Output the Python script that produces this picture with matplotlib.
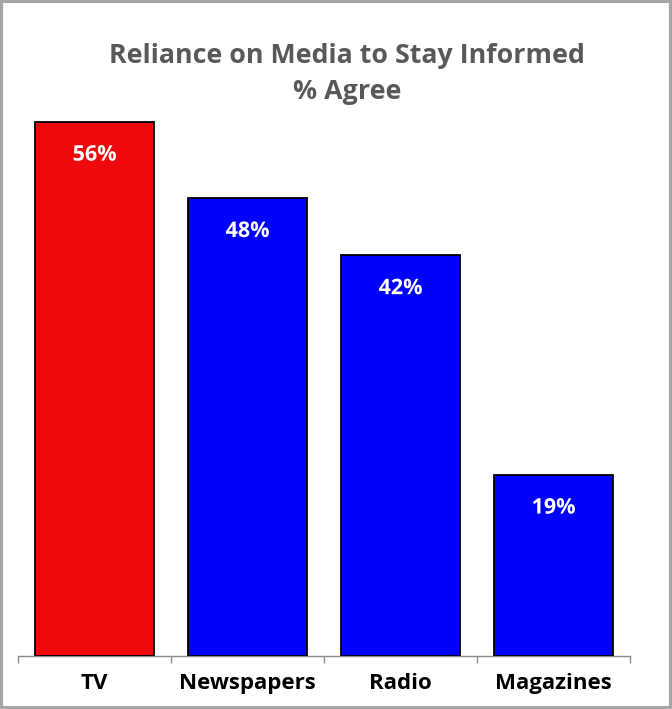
import matplotlib.pyplot as plt
import matplotlib.patheffects as pe
from matplotlib.patches import Rectangle
import numpy as np

# media categories and share agreeing (%)
media = ['TV', 'Newspapers', 'Radio', 'Magazines']
agree = [56, 48, 42, 19]
bar_colors = ['#ee0a0a', '#0000ff', '#0000ff', '#0000ff']

plt.rcParams['font.family'] = ['Open Sans', 'DejaVu Sans']

fig = plt.figure(figsize=(6.72, 7.09), dpi=100)
ax = fig.add_axes([0.0268, 0.0748, 0.9107, 0.8073])

x = np.arange(len(media))
bars = ax.bar(x, agree, width=0.78, color=bar_colors, edgecolor='black', linewidth=1.3, zorder=3)

# white value labels near the top of each bar
for b, v in zip(bars, agree):
    t = ax.text(b.get_x() + b.get_width() / 2, v - 3.5, f'{v}%', ha='center', va='center',
                color='white', fontsize=15.5, fontweight='bold', zorder=4)
    t.set_path_effects([pe.SimpleLineShadow(offset=(1, -1), shadow_color='#444444', alpha=0.6),
                        pe.Normal()])

ax.set_xlim(-0.5, len(media) - 0.5)
ax.set_ylim(0, 60)
ax.set_xticks(x)
ax.set_xticklabels(media, fontsize=16, fontweight='bold', color='black')
ax.set_xticks(np.arange(-0.5, len(media)), minor=True)
ax.tick_params(axis='x', which='major', length=0, pad=12)
ax.tick_params(axis='x', which='minor', length=5, width=1, color='#8c8c8c', direction='out')
ax.set_yticks([])
for s in ['top', 'left', 'right']:
    ax.spines[s].set_visible(False)
ax.spines['bottom'].set_color('#8c8c8c')
ax.spines['bottom'].set_linewidth(1)

fig.text(0.517, 0.896, 'Reliance on Media to Stay Informed\n% Agree', ha='center', va='center',
         fontsize=19.3, fontweight='bold', color='#595959', linespacing=1.5)

# grey outer frame
fig.patches.append(Rectangle((0.002, 0.002), 0.996, 0.996, transform=fig.transFigure,
                             fill=False, edgecolor='#a6a6a6', linewidth=3))

fig.savefig('out.png', dpi=100)
